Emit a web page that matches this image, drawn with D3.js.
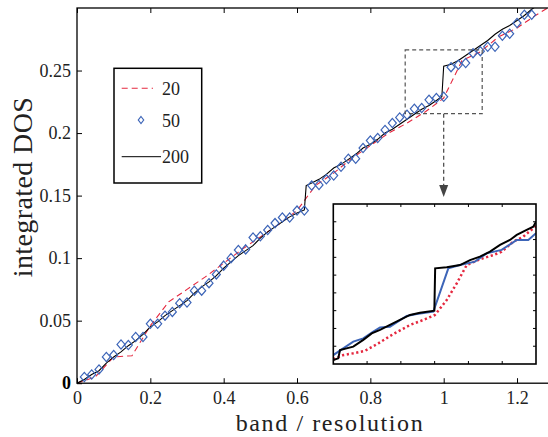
<!DOCTYPE html>
<html><head><meta charset="utf-8">
<script src="https://cdn.jsdelivr.net/npm/d3@7"></script>
<style>html,body{margin:0;padding:0;background:#fff}svg{display:block}</style>
</head><body>
<svg id="c" width="548" height="437"></svg>
<script>
// ---- data ----
const xTicks = [0, 0.2, 0.4, 0.6, 0.8, 1.0, 1.2];
const yTicks = [0, 0.05, 0.1, 0.15, 0.2, 0.25];
const seriesNames = ["20", "50", "200"];

// resolution 20 (red dashed)
const res20X = [0,0.05,0.1,0.15,0.2,0.25,0.3,0.35,0.4,0.45,0.5,0.55,0.6,0.65,0.7,0.75,0.8,0.85,0.9,0.95,1.0,1.05,1.1,1.15,1.2,1.25,1.3];
const res20Y = [0,0.005,0.021,0.022,0.046,0.065,0.075,0.085,0.096,0.107,0.117,0.127,0.138,0.158,0.168,0.180,0.190,0.200,0.208,0.217,0.228,0.258,0.265,0.277,0.284,0.294,0.303];

// resolution 50 (blue diamonds)
const res50X = [0.02,0.04,0.06,0.08,0.10,0.12,0.14,0.16,0.18,0.20,0.22,0.24,0.26,0.28,0.30,0.32,0.34,0.36,0.38,0.40,0.42,0.44,0.46,0.48,0.50,0.52,0.54,0.56,0.58,0.60,0.62,0.64,0.66,0.68,0.70,0.72,0.74,0.76,0.78,0.80,0.82,0.84,0.86,0.88,0.90,0.92,0.94,0.96,0.98,1.00,1.02,1.04,1.06,1.08,1.10,1.12,1.14,1.16,1.18,1.20,1.22,1.24];
const res50Y = [0.005,0.007,0.011,0.021,0.0225,0.031,0.0305,0.037,0.037,0.0475,0.0475,0.054,0.057,0.064,0.0645,0.074,0.074,0.080,0.087,0.094,0.100,0.1065,0.107,0.1165,0.1175,0.1225,0.128,0.1325,0.1325,0.138,0.138,0.158,0.1585,0.163,0.166,0.173,0.1795,0.1795,0.188,0.194,0.196,0.2025,0.208,0.2125,0.2146,0.2194,0.220,0.2266,0.228,0.229,0.2527,0.2546,0.256,0.2639,0.2655,0.269,0.269,0.2778,0.2794,0.288,0.2946,0.2946];

// resolution 200 (black line)
const res200X = [0,0.02,0.04,0.06,0.08,0.1,0.12,0.14,0.16,0.18,0.2,0.22,0.24,0.26,0.28,0.3,0.32,0.34,0.36,0.38,0.4,0.42,0.44,0.46,0.48,0.5,0.52,0.54,0.56,0.58,0.6,0.62,0.625,0.64,0.66,0.68,0.7,0.72,0.74,0.76,0.78,0.8,0.82,0.84,0.86,0.88,0.9,0.92,0.94,0.96,0.98,0.995,1.0,1.02,1.04,1.06,1.08,1.1,1.12,1.14,1.16,1.18,1.2,1.22,1.24,1.25];
const res200Y = [0,0.003,0.007,0.010,0.016,0.021,0.025,0.030,0.034,0.039,0.045,0.049,0.054,0.058,0.062,0.066,0.072,0.077,0.081,0.086,0.092,0.097,0.102,0.106,0.110,0.116,0.121,0.125,0.129,0.133,0.136,0.1385,0.158,0.160,0.163,0.167,0.172,0.175,0.179,0.183,0.188,0.191,0.195,0.200,0.203,0.207,0.211,0.215,0.219,0.222,0.226,0.229,0.2535,0.255,0.258,0.262,0.266,0.270,0.274,0.279,0.283,0.286,0.290,0.294,0.299,0.301];

// zoom window marked on the main plot
const zoomX = [0.895, 1.105];
const zoomY = [0.2155, 0.2665];

// inset curves
const insetXDomain = [0.9, 1.1];
const insetYDomain = [0.198, 0.291];
const inset200X = [0.900,0.9049,0.9066,0.9197,0.9296,0.9379,0.9461,0.9559,0.9658,0.9757,0.9855,0.9997,1.0005,1.0119,1.025,1.0349,1.0447,1.0546,1.0645,1.0743,1.081,1.0908,1.0973,1.1];
const inset200Y = [0.2003,0.2013,0.2061,0.2081,0.2120,0.2158,0.2178,0.2207,0.2236,0.2265,0.2278,0.2290,0.2536,0.2542,0.2555,0.2584,0.2604,0.2633,0.2672,0.2701,0.2730,0.2759,0.2778,0.2807];
const inset50X = [0.900,0.9083,0.9197,0.9296,0.9395,0.9461,0.9559,0.9724,0.9823,0.9987,1.0135,1.025,1.0398,1.0513,1.0661,1.081,1.0924,1.1];
const inset50Y = [0.2032,0.2065,0.2110,0.2129,0.2168,0.2193,0.2197,0.2259,0.2271,0.2284,0.2536,0.2555,0.2575,0.2623,0.2643,0.2701,0.2701,0.2740];
const inset20X = [0.900,0.9099,0.9197,0.9313,0.9444,0.9592,0.9757,0.9888,1.0003,1.0119,1.0218,1.0316,1.0447,1.0579,1.0661,1.0776,1.0874,1.1];
const inset20Y = [0.2007,0.2032,0.2042,0.2057,0.2100,0.2154,0.2207,0.2236,0.2265,0.2352,0.2449,0.2555,0.2589,0.2613,0.2633,0.2691,0.2720,0.2782];

// ---- drawing ----
const FONT = "'Liberation Serif','Times New Roman',serif";
const RED = "#e5283f", BLUE = "#3d65b8";
const svg = d3.select("#c");
const L = 77, T = 8, B = 383.2, R = 553.7;
const x = d3.scaleLinear().domain([0, 1.3]).range([L, R]);
const y = d3.scaleLinear().domain([0, 0.3]).range([B, T]);

svg.append("defs").append("clipPath").attr("id","clipMain")
  .append("rect").attr("x",L).attr("y",T).attr("width",R-L).attr("height",B-T);

const zip = (a,b) => a.map((v,i)=>[v,b[i]]);
const line = d3.line().x(d=>x(d[0])).y(d=>y(d[1]));

const plot = svg.append("g").attr("clip-path","url(#clipMain)");
plot.append("path").datum(zip(res20X,res20Y)).attr("d",line)
  .attr("fill","none").attr("stroke",RED).attr("stroke-width",1.1).attr("stroke-dasharray","6,4");
plot.append("path").datum(zip(res200X,res200Y)).attr("d",line)
  .attr("fill","none").attr("stroke","#000").attr("stroke-width",1.1);
const diamond = "M0,-4.6L4,0L0,4.6L-4,0Z";
plot.selectAll("path.dm").data(zip(res50X,res50Y)).join("path").attr("class","dm")
  .attr("d",diamond).attr("transform",d=>`translate(${x(d[0])},${y(d[1])})`)
  .attr("fill","none").attr("stroke",BLUE).attr("stroke-width",1.2);

// axes
const fmt = d => d===0 ? "0" : String(+d.toFixed(2));
const gx = svg.append("g").attr("transform",`translate(0,${B})`)
  .call(d3.axisBottom(x).tickValues(xTicks).tickSize(-5).tickPadding(8.5).tickFormat(fmt));
const gxt = svg.append("g").attr("transform",`translate(0,${T})`)
  .call(d3.axisTop(x).tickValues(xTicks).tickSize(-5).tickFormat(""));
const gy = svg.append("g").attr("transform",`translate(${L},0)`)
  .call(d3.axisLeft(y).tickValues(yTicks).tickSize(-5).tickPadding(6).tickFormat(fmt));
[gx,gxt,gy].forEach(g=>{
  g.select(".domain").remove();
  g.selectAll(".tick line").attr("stroke","#000").attr("stroke-width",1);
  g.selectAll("text").attr("font-family",FONT).attr("font-size",18).attr("fill","#222");
});
gy.selectAll(".tick").filter(d=>d===0).select("text").attr("font-weight","bold").attr("fill","#000");
svg.append("rect").attr("x",L).attr("y",T).attr("width",R-L).attr("height",B-T)
  .attr("fill","none").attr("stroke","#000").attr("stroke-width",1.3);

// axis titles
svg.append("text").attr("x",330).attr("y",431.3).attr("text-anchor","middle")
  .attr("font-family",FONT).attr("font-size",24).attr("letter-spacing",1.6).attr("fill","#222").text("band / resolution");
svg.append("text").attr("transform","translate(32,187) rotate(-90)").attr("text-anchor","middle")
  .attr("font-family",FONT).attr("font-size",28).attr("letter-spacing",0.4).attr("fill","#222").text("integrated DOS");

// zoom box + arrow
svg.append("rect").attr("x",x(zoomX[0])).attr("y",y(zoomY[1]))
  .attr("width",x(zoomX[1])-x(zoomX[0])).attr("height",y(zoomY[0])-y(zoomY[1]))
  .attr("fill","none").attr("stroke","#555").attr("stroke-width",1.2).attr("stroke-dasharray","4,3");
const ax = x(1.0);
svg.append("line").attr("x1",ax).attr("x2",ax).attr("y1",y(zoomY[0])).attr("y2",186)
  .attr("stroke","#444").attr("stroke-width",1.2).attr("stroke-dasharray","4,3");
svg.append("path").attr("d",`M${ax-4.5},185L${ax+4.5},185L${ax},197Z`).attr("fill","#444");

// legend
const lg = svg.append("g");
lg.append("rect").attr("x",114).attr("y",68.3).attr("width",87.7).attr("height",114.7)
  .attr("fill","#fff").attr("stroke","#000").attr("stroke-width",1.5);
const ly = [88.3, 120, 156.7];
lg.append("line").attr("x1",121.7).attr("x2",153).attr("y1",ly[0]).attr("y2",ly[0])
  .attr("stroke",RED).attr("stroke-width",1.1).attr("stroke-dasharray","6,4");
lg.append("path").attr("d","M0,-3.5L2.7,0L0,3.5L-2.7,0Z").attr("transform",`translate(141,${ly[1]})`)
  .attr("fill","none").attr("stroke",BLUE).attr("stroke-width",1.2);
lg.append("line").attr("x1",121.7).attr("x2",161).attr("y1",ly[2]).attr("y2",ly[2])
  .attr("stroke","#000").attr("stroke-width",1);
lg.selectAll("text.lt").data(seriesNames).join("text").attr("class","lt")
  .attr("x",162).attr("y",(d,i)=>ly[i]+6.5).attr("font-family",FONT).attr("font-size",18)
  .attr("fill","#222").text(d=>d);

// inset
const IL=333.3, IR=536, IT=204, IB=364;
const ix = d3.scaleLinear().domain(insetXDomain).range([IL,IR]);
const iy = d3.scaleLinear().domain(insetYDomain).range([IB,IT]);
const ig = svg.append("g");
ig.append("rect").attr("x",IL).attr("y",IT).attr("width",IR-IL).attr("height",IB-IT).attr("fill","#fff");
svg.append("defs").append("clipPath").attr("id","clipIn")
  .append("rect").attr("x",IL).attr("y",IT).attr("width",IR-IL).attr("height",IB-IT);
const icl = ig.append("g").attr("clip-path","url(#clipIn)");
const iline = d3.line().x(d=>ix(d[0])).y(d=>iy(d[1]));
icl.append("path").datum(zip(inset20X,inset20Y)).attr("d",iline)
  .attr("fill","none").attr("stroke",RED).attr("stroke-width",2.5).attr("stroke-dasharray","2.2,2.6");
icl.append("path").datum(zip(inset50X,inset50Y)).attr("d",iline)
  .attr("fill","none").attr("stroke",BLUE).attr("stroke-width",2);
icl.append("path").datum(zip(inset200X,inset200Y)).attr("d",iline)
  .attr("fill","none").attr("stroke","#000").attr("stroke-width",2);
// inset ticks (no labels)
const ixt = d3.range(1,6).map(k=>insetXDomain[0]+k*(insetXDomain[1]-insetXDomain[0])/6);
const iyt = d3.range(1,9).map(k=>insetYDomain[0]+k*(insetYDomain[1]-insetYDomain[0])/9);
ixt.forEach(v=>{
  ig.append("line").attr("x1",ix(v)).attr("x2",ix(v)).attr("y1",IB).attr("y2",IB-3).attr("stroke","#000");
  ig.append("line").attr("x1",ix(v)).attr("x2",ix(v)).attr("y1",IT).attr("y2",IT+3).attr("stroke","#000");
});
iyt.forEach(v=>{
  ig.append("line").attr("x1",IL).attr("x2",IL+3).attr("y1",iy(v)).attr("y2",iy(v)).attr("stroke","#000");
  ig.append("line").attr("x1",IR).attr("x2",IR-3).attr("y1",iy(v)).attr("y2",iy(v)).attr("stroke","#000");
});
ig.append("rect").attr("x",IL).attr("y",IT).attr("width",IR-IL).attr("height",IB-IT)
  .attr("fill","none").attr("stroke","#000").attr("stroke-width",1.6);
</script>
</body></html>
